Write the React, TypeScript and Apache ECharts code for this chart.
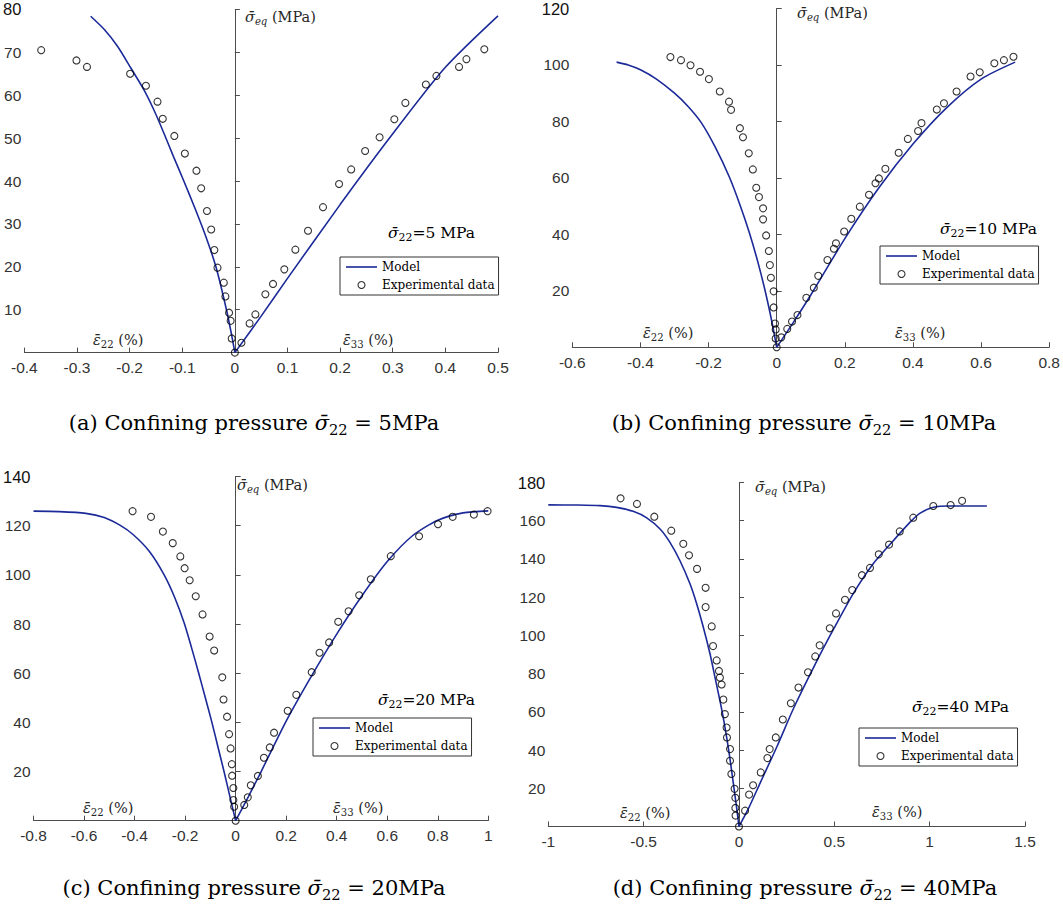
import React, { useEffect, useRef } from "react";
import * as echarts from "echarts";

// ---------- data ----------
const pressures = [5, 10, 20, 40];
const panelLetters = ["a", "b", "c", "d"];
const xMin = [-0.4, -0.6, -0.8, -1];
const xMax = [0.5, 0.8, 1, 1.5];
const xStep = [0.1, 0.2, 0.2, 0.5];
const yMax = [80, 120, 140, 180];
const yStep = [10, 20, 20, 20];

// Panel (a) sigma22 = 5 MPa
const modelA22 = [[-0.274, 78.4], [-0.248, 75.3], [-0.223, 71.4], [-0.198, 66.4], [-0.173, 61.3], [-0.154, 56.6], [-0.135, 51.2], [-0.117, 45.8], [-0.098, 40.3], [-0.076, 33.7], [-0.055, 27], [-0.036, 20], [-0.016, 10], [-0.006, 4], [0, 0]];
const modelA33 = [[0, 0], [0.05, 8.5], [0.1, 17.3], [0.2, 34.5], [0.3, 51], [0.4, 66.5], [0.5, 78.5]];
const expA22 = [[-0.368, 70.5], [-0.301, 68.1], [-0.281, 66.6], [-0.199, 65.0], [-0.169, 62.2], [-0.147, 58.5], [-0.137, 54.5], [-0.115, 50.5], [-0.095, 46.4], [-0.073, 42.4], [-0.064, 38.3], [-0.053, 33.0], [-0.045, 28.7], [-0.039, 23.9], [-0.033, 19.8], [-0.021, 16.3], [-0.018, 13.1], [-0.011, 9.3], [-0.008, 7.4], [-0.006, 3.3], [0, 0]];
const expA33 = [[0.0125, 2.3], [0.028, 6.8], [0.039, 8.9], [0.058, 13.6], [0.0725, 16.0], [0.094, 19.4], [0.115, 24.0], [0.139, 28.4], [0.1675, 33.9], [0.198, 39.3], [0.221, 42.7], [0.2475, 47.0], [0.275, 50.2], [0.303, 54.4], [0.324, 58.2], [0.363, 62.5], [0.383, 64.5], [0.426, 66.6], [0.44, 68.4], [0.474, 70.7]];

// Panel (b) sigma22 = 10 MPa
const modelB22 = [[-0.47, 101], [-0.436, 100], [-0.4, 98.3], [-0.353, 95], [-0.3, 90], [-0.26, 85.3], [-0.221, 79.5], [-0.18, 70.8], [-0.139, 60.3], [-0.108, 50.5], [-0.08, 40.5], [-0.056, 30.5], [-0.034, 20], [-0.015, 9.5], [0, 0]];
const modelB33 = [[0, 0], [0.05, 9], [0.1, 18.5], [0.2, 38.5], [0.3, 56.5], [0.4, 72], [0.5, 85], [0.6, 95], [0.7, 101]];
const expB22 = [[-0.312, 102.8], [-0.281, 101.7], [-0.253, 99.9], [-0.225, 97.6], [-0.199, 95.0], [-0.167, 90.6], [-0.14, 87.0], [-0.134, 84.1], [-0.108, 77.6], [-0.099, 74.4], [-0.082, 68.7], [-0.07, 63.0], [-0.06, 56.5], [-0.052, 53.2], [-0.04, 49.2], [-0.04, 45.3], [-0.031, 39.6], [-0.023, 34.1], [-0.02, 29.1], [-0.017, 24.6], [-0.009, 19.8], [-0.009, 14.1], [-0.005, 8.4], [-0.003, 6.3], [-0.003, 3.1], [0, 0]];
const expB33 = [[0.0135, 3.5], [0.031, 6.5], [0.045, 9.1], [0.061, 11.4], [0.087, 17.5], [0.109, 21.1], [0.122, 25.3], [0.149, 30.9], [0.168, 34.9], [0.174, 36.8], [0.198, 41.0], [0.219, 45.5], [0.244, 49.8], [0.271, 54.0], [0.29, 58.1], [0.3, 59.8], [0.319, 63.2], [0.358, 68.9], [0.385, 73.8], [0.415, 76.6], [0.425, 79.4], [0.47, 84.2], [0.491, 86.4], [0.528, 90.6], [0.569, 95.9], [0.596, 97.4], [0.639, 100.6], [0.667, 101.7], [0.695, 102.9]];

// Panel (c) sigma22 = 20 MPa
const modelC22 = [[-0.8, 125.9], [-0.7, 125.7], [-0.593, 125], [-0.52, 123.3], [-0.455, 120], [-0.405, 116.3], [-0.342, 109.6], [-0.283, 100], [-0.24, 90.5], [-0.204, 80.5], [-0.175, 70.5], [-0.147, 60.3], [-0.12, 50], [-0.094, 40], [-0.07, 30], [-0.046, 20], [-0.022, 9.5], [0, 0]];
const modelC33 = [[0, 0], [0.05, 9.7], [0.1, 19.8], [0.2, 40.5], [0.3, 58.8], [0.4, 75.9], [0.5, 91.5], [0.6, 105.4], [0.7, 115.9], [0.8, 122.2], [0.9, 125.2], [1.0, 126.0]];
const expC22 = [[-0.408, 125.9], [-0.335, 123.6], [-0.288, 117.6], [-0.249, 112.9], [-0.219, 107.5], [-0.202, 102.7], [-0.182, 97.8], [-0.158, 91.3], [-0.131, 83.9], [-0.103, 74.9], [-0.085, 69.2], [-0.053, 58.3], [-0.048, 49.3], [-0.034, 42.3], [-0.026, 35.2], [-0.02, 29.4], [-0.015, 23.0], [-0.014, 18.3], [-0.009, 13.3], [-0.009, 8.4], [-0.006, 5.7], [0, 0]];
const expC33 = [[0.034, 6.4], [0.048, 9.5], [0.06, 14.4], [0.088, 18.2], [0.112, 25.6], [0.135, 29.8], [0.152, 35.8], [0.206, 44.7], [0.24, 51.2], [0.301, 60.4], [0.332, 68.3], [0.37, 72.5], [0.406, 80.9], [0.447, 85.2], [0.489, 91.7], [0.535, 98.2], [0.614, 107.6], [0.726, 115.7], [0.801, 120.6], [0.859, 123.6], [0.943, 124.5], [0.997, 125.9]];

// Panel (d) sigma22 = 40 MPa
const modelD22 = [[-1, 168.3], [-0.85, 168.2], [-0.729, 167.9], [-0.642, 167], [-0.555, 164.9], [-0.484, 161.5], [-0.414, 155.7], [-0.362, 148.7], [-0.31, 139.2], [-0.257, 127], [-0.222, 116.6], [-0.187, 104.3], [-0.152, 90.4], [-0.126, 78.2], [-0.088, 60], [-0.054, 40], [-0.026, 20], [-0.01, 8], [0, 0]];
const modelD33 = [[0, 0], [0.05, 9.5], [0.112, 23], [0.2, 42], [0.287, 62], [0.4, 85], [0.5, 104], [0.6, 122], [0.7, 137], [0.8, 148.5], [0.9, 159.5], [0.95, 164], [1.02, 167], [1.1, 167.7], [1.3, 167.7]];
const expD22 = [[-0.621, 171.7], [-0.535, 168.8], [-0.444, 162.1], [-0.355, 154.8], [-0.292, 147.9], [-0.262, 141.9], [-0.22, 134.8], [-0.175, 124.9], [-0.175, 114.8], [-0.143, 104.7], [-0.136, 94.4], [-0.117, 86.9], [-0.105, 81.4], [-0.1, 77.9], [-0.091, 74.3], [-0.082, 66.4], [-0.074, 58.8], [-0.065, 51.8], [-0.063, 46.6], [-0.047, 40.5], [-0.047, 34.4], [-0.04, 27.5], [-0.023, 19.7], [-0.019, 15.0], [-0.019, 9.7], [-0.018, 5.7], [0, 0]];
const expD33 = [[0.032, 8.3], [0.053, 16.7], [0.074, 21.6], [0.114, 28.3], [0.149, 35.8], [0.161, 40.5], [0.193, 46.6], [0.23, 56.0], [0.272, 64.5], [0.312, 72.7], [0.362, 80.7], [0.4, 89.0], [0.423, 94.8], [0.476, 103.7], [0.509, 111.5], [0.556, 118.6], [0.594, 123.7], [0.645, 131.5], [0.687, 135.3], [0.733, 142.4], [0.787, 147.5], [0.843, 154.4], [0.914, 161.6], [1.019, 167.7], [1.11, 168.2], [1.17, 170.4]];

const models22 = [modelA22, modelB22, modelC22, modelD22];
const models33 = [modelA33, modelB33, modelC33, modelD33];
const exps22 = [expA22, expB22, expC22, expD22];
const exps33 = [expA33, expB33, expC33, expD33];

// ---------- layout / style ----------
const SERIF = "'DejaVu Serif', serif";
const SANS = "'Liberation Sans', Arial, sans-serif";
const BLUE = "#1b2a98";
const AXIS = "#4d4d4d";

const layout = [
  { grid: { left: 21, top: 9.4, width: 477, height: 343.2 }, legend: [340, 257], ann: [388, 233], e22: [93, 340], e33: [343, 340], seq: [245, 17], cap: [254, 423] },
  { grid: { left: 572.3, top: 3.75, width: 477, height: 343.5 }, legend: [880, 246], ann: [940, 229], e22: [643, 333], e33: [895, 333], seq: [797, 13], cap: [804, 423] },
  { grid: { left: 11.7, top: 476.5, width: 476.6, height: 344.2 }, legend: [313, 718], ann: [378, 700], e22: [83, 808], e33: [333, 808], seq: [237, 485], cap: [254, 888] },
  { grid: { left: 548.3, top: 482.5, width: 476.7, height: 344 }, legend: [859, 728], ann: [912, 707], e22: [620, 813], e33: [872, 812], seq: [755, 487], cap: [805, 888] },
];

const SIG = "\u03C3\u0304";
const EPS = "\u03B5\u0304";

function rich(S: number, color: string) {
  const sub = Math.round(S * 0.7 * 10) / 10;
  return {
    r: { fontFamily: SERIF, fontSize: S, fill: color },
    i: { fontFamily: SERIF, fontSize: S, fontStyle: "italic", fill: color },
    s: { fontFamily: SERIF, fontSize: sub, fill: color, verticalAlign: "bottom", lineHeight: S * 1.3 },
    si: { fontFamily: SERIF, fontSize: sub, fontStyle: "italic", fill: color, verticalAlign: "bottom", lineHeight: S * 1.3 },
  };
}

function texText(x: number, y: number, text: string, S: number, color: string, align: string) {
  return {
    type: "text",
    x,
    y,
    silent: true,
    style: {
      text,
      rich: rich(S, color),
      fontFamily: SERIF,
      fontSize: S,
      fill: color,
      align,
      verticalAlign: "middle",
    },
  };
}

export default function App() {
  const ref = useRef<HTMLDivElement>(null);
  useEffect(() => {
    if (!ref.current) return;
    const chart = echarts.init(ref.current, undefined, { renderer: "svg" });
    const grid: any[] = [];
    const xAxis: any[] = [];
    const yAxis: any[] = [];
    const series: any[] = [];
    const legend: any[] = [];
    const graphic: any[] = [];

    for (let i = 0; i < 4; i++) {
      const L = layout[i];
      grid.push({ ...L.grid, containLabel: false });
      xAxis.push({
        type: "value",
        gridIndex: i,
        min: xMin[i],
        max: xMax[i],
        interval: xStep[i],
        axisLine: { onZero: true, lineStyle: { color: AXIS, width: 1 } },
        axisTick: { inside: true, length: 5, lineStyle: { color: AXIS, width: 1 } },
        axisLabel: { color: "#333", fontSize: 15.5, fontFamily: SANS, margin: 7 },
        splitLine: { show: false },
      });
      const ym = yMax[i];
      yAxis.push({
        type: "value",
        gridIndex: i,
        min: 0,
        max: ym,
        interval: yStep[i],
        axisLine: { onZero: true, lineStyle: { color: AXIS, width: 1 } },
        axisTick: { inside: true, length: 5, lineStyle: { color: AXIS, width: 1 } },
        axisLabel: {
          color: "#333",
          fontSize: 15.5,
          fontFamily: SANS,
          margin: 3,
          showMinLabel: false,
          formatter: (v: number) => (v === ym ? "{t|" + v + "}" : String(v)),
          rich: { t: { fontSize: 16.5, color: "#111", fontFamily: SANS } },
        },
        splitLine: { show: false },
      });
      series.push({
        type: "line", name: "Model", xAxisIndex: i, yAxisIndex: i, data: models22[i],
        symbol: "none", smooth: 0.25, silent: true, z: 3,
        lineStyle: { color: BLUE, width: 1.6 }, itemStyle: { color: BLUE },
      });
      series.push({
        type: "line", name: "Model", xAxisIndex: i, yAxisIndex: i, data: models33[i],
        symbol: "none", smooth: 0.25, silent: true, z: 3,
        lineStyle: { color: BLUE, width: 1.6 }, itemStyle: { color: BLUE },
      });
      series.push({
        type: "scatter", name: "Experimental data", xAxisIndex: i, yAxisIndex: i,
        data: [...exps22[i], ...exps33[i]],
        symbol: "circle", symbolSize: 7, silent: true, z: 4,
        itemStyle: { color: "rgba(0,0,0,0)", borderColor: "#000", borderWidth: 1.1 },
      });
      legend.push({
        left: L.legend[0],
        top: L.legend[1],
        orient: "vertical",
        itemWidth: 31,
        itemHeight: 7,
        itemGap: 4,
        padding: [3, 4, 3, 6],
        borderColor: "#333",
        borderWidth: 1,
        borderRadius: 0,
        backgroundColor: "#fff",
        selectedMode: false,
        textStyle: { fontFamily: SERIF, fontSize: 12, color: "#000", lineHeight: 14 },
        data: [
          { name: "Model", icon: "path://M0,0 L31,0 L31,1.6 L0,1.6 Z", itemStyle: { color: BLUE, borderWidth: 0 } },
          { name: "Experimental data", icon: "circle", itemStyle: { color: "rgba(0,0,0,0)", borderColor: "#000", borderWidth: 1.1 } },
        ],
      });
      graphic.push(texText(L.ann[0], L.ann[1], `{i|${SIG}}{s|22}{r|=${pressures[i]} MPa}`, 15.5, "#000", "left"));
      graphic.push(texText(L.e22[0], L.e22[1], `{i|${EPS}}{s|22}{r| (%)}`, 14.5, "#262626", "left"));
      graphic.push(texText(L.e33[0], L.e33[1], `{i|${EPS}}{s|33}{r| (%)}`, 14.5, "#262626", "left"));
      graphic.push(texText(L.seq[0], L.seq[1], `{i|${SIG}}{si|eq}{r| (MPa)}`, 14.5, "#262626", "left"));
      graphic.push(texText(L.cap[0], L.cap[1], `{r|(${panelLetters[i]}) Confining pressure }{i|${SIG}}{s|22}{r| = ${pressures[i]}MPa}`, 21, "#000", "center"));
    }

    chart.setOption({
      animation: false,
      backgroundColor: "#fff",
      grid,
      xAxis,
      yAxis,
      series,
      legend,
      graphic,
    });
    return () => chart.dispose();
  }, []);
  return (
    <div
      ref={ref}
      style={{ position: "fixed", left: 0, top: 0, width: 1063, height: 909, background: "#fff" }}
    />
  );
}
